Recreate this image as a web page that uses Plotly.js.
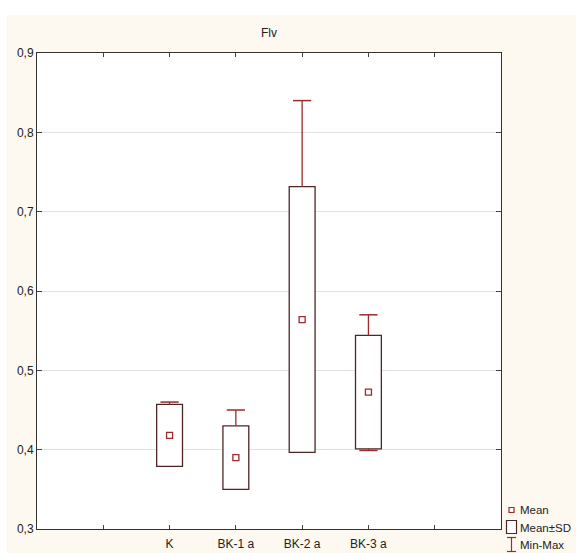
<!DOCTYPE html>
<html>
<head>
<meta charset="utf-8">
<script src="https://cdn.plot.ly/plotly-3.0.1.min.js"></script>
<style>
html,body{margin:0;padding:0;background:#fff;}
#chart{width:576px;height:553px;}
</style>
</head>
<body>
<div id="chart"></div>
<script>
// ---- data ----
var categories = ['K', 'BK-1 a', 'BK-2 a', 'BK-3 a'];
var means      = [0.418, 0.390, 0.564, 0.4725];
var sds        = [0.039, 0.040, 0.1675, 0.0715];
var maxs       = [0.460, 0.450, 0.840, 0.570];
var mins       = [0.380, 0.352, 0.400, 0.399];
var yTicks     = [0.3, 0.4, 0.5, 0.6, 0.7, 0.8, 0.9];
var axisCats   = [' ', 'K', 'BK-1 a', 'BK-2 a', 'BK-3 a', '  '];

var boxColor = '#4e2626';
var redColor = '#9c2a2a';
var FONT = '"Liberation Sans Narrow", "Arial Narrow", "Liberation Sans", Arial, sans-serif';

var lower = means.map(function(m, i){ return m - sds[i]; });
var upper = means.map(function(m, i){ return m + sds[i]; });

// Whisker up: from box top to max
var wx = [], wy = [];
categories.forEach(function(c, i){
  if (maxs[i] > upper[i]) { wx.push(c, c, null); wy.push(upper[i], maxs[i], null); }
});
// Whisker down: from box bottom to min (only when min lies below box)
var lowCats = [], lowVals = [];
categories.forEach(function(c, i){
  if (mins[i] < lower[i]) { wx.push(c, c, null); wy.push(lower[i], mins[i], null); lowCats.push(c); lowVals.push(mins[i]); }
});

var traces = [
  {
    type: 'bar', x: categories, y: sds.map(function(s){ return 2 * s; }), base: lower,
    width: 0.39, marker: {color: 'rgba(255,255,255,1)', line: {color: boxColor, width: 1.3}},
    hoverinfo: 'skip', showlegend: false
  },
  {
    type: 'scatter', mode: 'lines', x: wx, y: wy,
    line: {color: redColor, width: 1.3}, hoverinfo: 'skip', showlegend: false
  },
  {
    type: 'scatter', mode: 'markers', x: categories, y: maxs,
    marker: {symbol: 'line-ew', size: 13, line: {color: redColor, width: 1.5}},
    hoverinfo: 'skip', showlegend: false
  },
  {
    type: 'scatter', mode: 'markers', x: lowCats, y: lowVals,
    marker: {symbol: 'line-ew', size: 13, line: {color: redColor, width: 1.5}},
    hoverinfo: 'skip', showlegend: false
  },
  {
    type: 'scatter', mode: 'markers', x: categories, y: means,
    marker: {symbol: 'square-open', size: 6, color: redColor, line: {color: redColor, width: 1.3}},
    showlegend: false
  }
];

// plot area: x 37..501 px, y 53..529 px
var L = 37, R = 75, T = 53, B = 24, W = 576, H = 553;
var pw = W - L - R, ph = H - T - B;
function px2x(p){ return (p - L) / pw; }
function px2y(p){ return (H - B - p) / ph; }

var shapes = [
  // white outer border (top & left strips)
  {type:'rect', xref:'paper', yref:'paper', x0: px2x(0), x1: px2x(W), y0: px2y(15), y1: px2y(0), fillcolor:'#ffffff', line:{width:0}, layer:'below'},
  {type:'rect', xref:'paper', yref:'paper', x0: px2x(0), x1: px2x(7), y0: px2y(H), y1: px2y(0), fillcolor:'#ffffff', line:{width:0}, layer:'below'},
  // legend icons
  {type:'rect', xref:'paper', yref:'paper', x0: px2x(509), x1: px2x(514), y0: px2y(512.5), y1: px2y(507.5), fillcolor:'rgba(0,0,0,0)', line:{color: redColor, width: 1.2}},
  {type:'rect', xref:'paper', yref:'paper', x0: px2x(506.5), x1: px2x(516.5), y0: px2y(533.5), y1: px2y(520.5), fillcolor:'#ffffff', line:{color: boxColor, width: 1.2}},
  {type:'line', xref:'paper', yref:'paper', x0: px2x(511.5), x1: px2x(511.5), y0: px2y(551.5), y1: px2y(537.5), line:{color: redColor, width: 1.2}},
  {type:'line', xref:'paper', yref:'paper', x0: px2x(507), x1: px2x(516), y0: px2y(537.5), y1: px2y(537.5), line:{color: redColor, width: 1.2}},
  {type:'line', xref:'paper', yref:'paper', x0: px2x(507), x1: px2x(516), y0: px2y(551.5), y1: px2y(551.5), line:{color: redColor, width: 1.2}}
];

var legendTexts = [['Mean', 510], ['Mean±SD', 527.5], ['Min-Max', 545]];
var annotations = legendTexts.map(function(t){
  return {xref:'paper', yref:'paper', x: px2x(519), y: px2y(t[1]), xanchor:'left', yanchor:'middle',
          text: t[0], showarrow:false, borderpad: 0, font:{family: FONT, size: 11.5, color:'#222'}};
});

var layout = {
  width: W, height: H,
  margin: {l: L, r: R, t: T, b: B, pad: 0},
  paper_bgcolor: '#fdf9f1',
  plot_bgcolor: '#ffffff',
  separators: ', ',
  font: {family: FONT, size: 12, color: '#222'},
  title: {text: 'Flv', x: 0.5, xref: 'paper', y: 1 - 33 / H, yref: 'container', yanchor: 'middle',
          font: {family: FONT, size: 12, color: '#222'}},
  showlegend: false,
  bargap: 0,
  xaxis: {
    type: 'category', categoryorder: 'array', categoryarray: axisCats,
    range: [-1, 6], fixedrange: true,
    showgrid: false, zeroline: false,
    showline: true, linecolor: '#333', linewidth: 1, mirror: 'ticks',
    ticks: 'inside', ticklen: 4, tickcolor: '#444', tickwidth: 1,
    ticklabelstandoff: 4,
    tickfont: {family: FONT, size: 12, color: '#222'}
  },
  yaxis: {
    range: [0.3, 0.9], fixedrange: true,
    tickvals: yTicks, tickformat: '.1f',
    showgrid: true, gridcolor: '#e2e2e2', gridwidth: 1, zeroline: false,
    showline: true, linecolor: '#333', linewidth: 1, mirror: 'ticks',
    ticks: 'inside', ticklen: 5, tickcolor: '#444', tickwidth: 1,
    tickfont: {family: FONT, size: 12, color: '#222'}
  },
  shapes: shapes,
  annotations: annotations
};

Plotly.newPlot('chart', traces, layout, {displayModeBar: false, staticPlot: true});
</script>
</body>
</html>
